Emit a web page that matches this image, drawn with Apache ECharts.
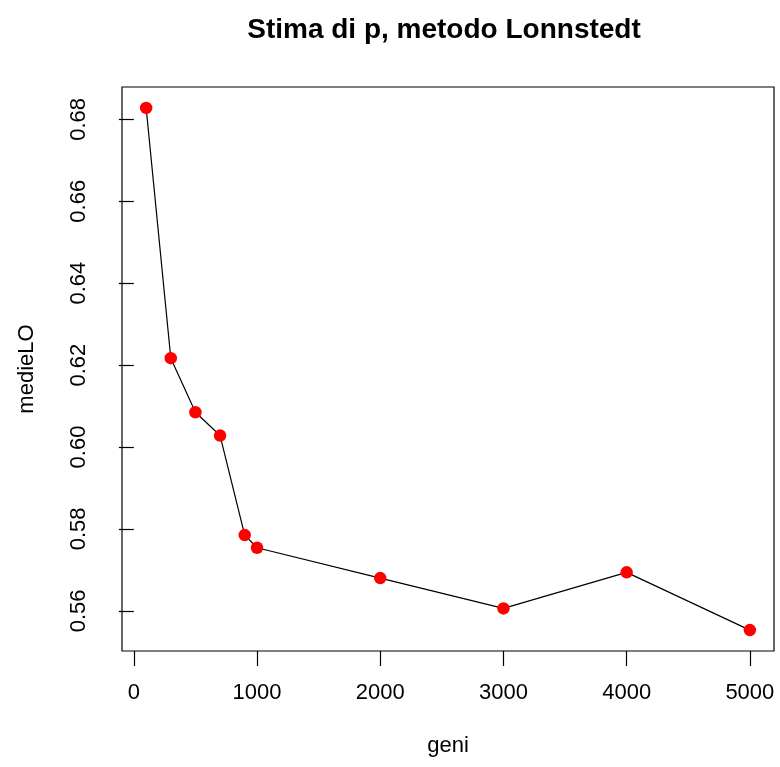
<!DOCTYPE html>
<html>
<head>
<meta charset="utf-8">
<title>Stima di p, metodo Lonnstedt</title>
<script src="https://cdn.jsdelivr.net/npm/echarts@6/dist/echarts.min.js"></script>
<style>
  html, body { margin: 0; padding: 0; background: #fff; }
  #chart { width: 780px; height: 767px; }
</style>
</head>
<body>
<div id="chart"></div>
<script>
// number of genes in each simulation
const geni = [100, 300, 500, 700, 900, 1000, 2000, 3000, 4000, 5000];
// mean estimate of p (Lonnstedt method)
const medieLO = [0.6828, 0.6217, 0.6085, 0.6028, 0.5785, 0.5754, 0.5680, 0.5606, 0.5694, 0.5553];

// tick positions
const xTicks = [0, 1000, 2000, 3000, 4000, 5000];
const yTicks = [0.56, 0.58, 0.60, 0.62, 0.64, 0.66, 0.68];

// axis ranges padded by 4% of the data range on each side
function padded(arr) {
  const lo = Math.min(...arr), hi = Math.max(...arr);
  const d = (hi - lo) * 0.04;
  return [lo - d, hi + d];
}
const [xMin, xMax] = padded(geni);
const [yMin, yMax] = padded(medieLO);

const FONT = '"Liberation Sans", Arial, Helvetica, sans-serif';

const chart = echarts.init(document.getElementById('chart'), null, { renderer: 'canvas' });
chart.setOption({
  animation: false,
  backgroundColor: '#ffffff',
  title: {
    text: 'Stima di p, metodo Lonnstedt',
    left: 439,
    top: 11,
    textAlign: 'center',
    textStyle: { fontFamily: FONT, fontSize: 28, fontWeight: 'bold', color: '#000' }
  },
  grid: {
    left: 122, top: 87, width: 652, height: 564,
    show: true, borderColor: '#000', borderWidth: 1.2, backgroundColor: 'transparent'
  },
  xAxis: {
    type: 'value',
    min: xMin, max: xMax,
    name: 'geni',
    nameLocation: 'middle',
    nameGap: 84,
    nameTextStyle: { fontFamily: FONT, fontSize: 22, color: '#000' },
    axisLine: { show: false },
    axisTick: { show: true, length: 15, customValues: xTicks, lineStyle: { color: '#000', width: 1.2 } },
    axisLabel: { customValues: xTicks, margin: 31, fontFamily: FONT, fontSize: 22, color: '#000',
                 formatter: v => String(v) },
    splitLine: { show: false }
  },
  yAxis: {
    type: 'value',
    min: yMin, max: yMax,
    name: 'medieLO',
    nameLocation: 'middle',
    nameRotate: 90,
    nameGap: 84,
    nameTextStyle: { fontFamily: FONT, fontSize: 22, color: '#000' },
    axisLine: { show: false },
    axisTick: { show: true, length: 15, customValues: yTicks, lineStyle: { color: '#000', width: 1.2 } },
    axisLabel: { customValues: yTicks, rotate: 90, margin: 32, fontFamily: FONT, fontSize: 22, color: '#000',
                 formatter: v => v.toFixed(2) },
    splitLine: { show: false }
  },
  series: [{
    type: 'line',
    data: geni.map((g, i) => [g, medieLO[i]]),
    symbol: 'circle',
    symbolSize: 12.5,
    showAllSymbol: true,
    lineStyle: { color: '#000', width: 1.2 },
    itemStyle: { color: '#ff0000', borderWidth: 0 },
    emphasis: { disabled: true },
    z: 3
  }]
});
</script>
</body>
</html>
